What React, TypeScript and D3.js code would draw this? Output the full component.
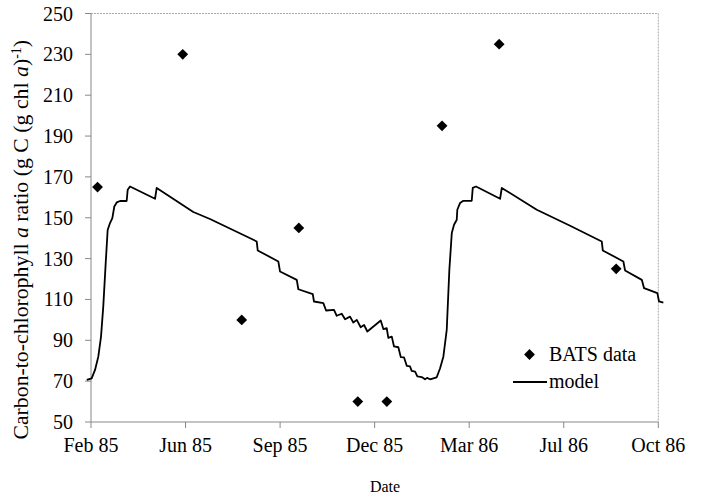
import React from "react";
import * as d3 from "d3";

// Days since start of the run (tick spacing 101 days, Feb 85 .. Oct 86)
const tickLabels = ["Feb 85", "Jun 85", "Sep 85", "Dec 85", "Mar 86", "Jul 86", "Oct 86"];
const tickDays = [0, 101, 202, 303, 404, 505, 606];
const yTicks = [50, 70, 90, 110, 130, 150, 170, 190, 210, 230, 250];

// BATS observations
const batsDay = [7, 98, 161, 222, 285, 316, 375, 436, 561];
const batsValue = [165, 230, 100, 145, 60, 60, 195, 235, 125];

// Model output
const modelDay = [
  -4.5, 0.7, 4.3, 7.8, 10.7, 13.1, 15.7, 17.8, 20.3, 22.8, 24.9, 27.5, 31, 38.1, 39.2, 41.7,
  68.4, 70.2, 109.3, 127.1, 173.4, 177, 178.1, 200.1, 201.9, 219.8, 221.5, 236.9, 238.2,
  248.2, 251.1, 259.6, 262.5, 267.8, 271.4, 276.7, 280.2, 283.9, 288.1, 291.7, 295.2,
  309.5, 312.3, 315.9, 317.6, 321.3, 323.7, 328.3, 330.9, 334.4, 337.3, 340.8, 342.6,
  346.2, 348.6, 353.3, 356.8, 359, 362.2, 365.7, 369.3, 372.9, 376.4, 380, 382.8, 385.4,
  387.8, 390.7, 391.3, 394.2, 397.8, 406.7, 407.8, 411.3, 437, 438.8, 476.2, 511.8,
  545.6, 546.7, 568.7, 570.5, 588.4, 590.8, 605, 606.8, 611.4,
];
const modelValue = [
  70.6, 71.4, 75.5, 82, 91.8, 106.5, 127.8, 144, 147.4, 149.8, 155.5, 157.5, 158.2, 158.2, 163.7, 165.3,
  159.3, 164.6, 152.8, 149.4, 139.2, 138.4, 134, 128.6, 123.7, 119.6, 115, 112.6, 109,
  108.2, 104.6, 104.9, 102, 103, 100.3, 101.6, 98.7, 100, 96.4, 97.5, 94.3,
  99.7, 95.5, 95.9, 91.2, 91.8, 87, 86.6, 81.8, 81.6, 77.5, 77.2, 75,
  74.7, 72.3, 72, 70.9, 71.6, 70.9, 71.4, 71.9, 76.3, 82, 95.1, 124.5, 142.5,
  146.6, 149, 153.9, 157.2, 158.3, 158.3, 164.6, 165.3, 159.3, 164.6, 153.9, 146.1,
  138.4, 134, 128.6, 124.2, 119.6, 115.5, 113.1, 109, 108.5,
];

const W = 703;
const H = 499;
const left = 91;
const right = 658.3;
const top = 13.5;
const bottom = 422;
const font = "Liberation Serif";

export default function App() {
  const x = d3.scaleLinear().domain([0, 606]).range([left, right]);
  const y = d3.scaleLinear().domain([50, 250]).range([bottom, top]);

  const model = modelDay.map((d, i) => [d, modelValue[i]] as [number, number]);
  const line = d3
    .line<[number, number]>()
    .x((d) => x(d[0]))
    .y((d) => y(d[1]))(model);

  const r = 5.4;
  const diamond = d3.symbol(d3.symbolSquare, 2 * r * r)() as string;
  const txt = { fontFamily: font, fill: "#000" } as React.CSSProperties;

  return (
    <svg
      width={W}
      height={H}
      style={{ position: "absolute", left: 0, top: 0, background: "#fff" }}
    >
      <rect x={0} y={0} width={W} height={H} fill="#fff" />
      {/* frame */}
      <line x1={left} x2={right} y1={top} y2={top} stroke="#aaa" strokeDasharray="2,1" />
      <line x1={right} x2={right} y1={top} y2={bottom} stroke="#aaa" strokeDasharray="2,1" />
      <line x1={left} x2={left} y1={top} y2={bottom} stroke="#888" />
      <line x1={left} x2={right} y1={bottom} y2={bottom} stroke="#888" />

      {yTicks.map((t) => (
        <g key={t}>
          <line x1={left - 6} x2={left} y1={y(t)} y2={y(t)} stroke="#888" />
          <text x={73} y={y(t)} dy="0.35em" textAnchor="end" fontSize={20} style={txt}>
            {t}
          </text>
        </g>
      ))}
      {tickDays.map((d, i) => (
        <g key={d}>
          <line x1={x(d)} x2={x(d)} y1={bottom} y2={bottom + 6} stroke="#888" />
          <text x={x(d)} y={452} textAnchor="middle" fontSize={20} style={txt}>
            {tickLabels[i]}
          </text>
        </g>
      ))}

      <text x={385} y={492} textAnchor="middle" fontSize={16} style={txt}>
        Date
      </text>
      <text
        transform={`translate(28, ${(top + bottom) / 2 + 22}) rotate(-90)`}
        textAnchor="middle"
        fontSize={21.8}
        style={txt}
      >
        Carbon-to-chlorophyll <tspan fontStyle="italic">a</tspan> ratio (g C (g chl{" "}
        <tspan fontStyle="italic">a</tspan>)
        <tspan baselineShift="super" fontSize={14}>-1</tspan>)
      </text>

      <path d={line ?? ""} fill="none" stroke="#000" strokeWidth={1.8} strokeLinejoin="round" />

      {batsDay.map((d, i) => (
        <path
          key={i}
          d={diamond}
          transform={`translate(${x(d)}, ${y(batsValue[i])}) rotate(45)`}
          fill="#000"
        />
      ))}

      {/* legend */}
      <path d={diamond} transform="translate(529.5, 354.5) rotate(45)" fill="#000" />
      <text x={549} y={361} fontSize={20} style={txt}>
        BATS data
      </text>
      <line x1={513} x2={547} y1={382} y2={382} stroke="#000" strokeWidth={1.8} />
      <text x={549} y={388} fontSize={20} style={txt}>
        model
      </text>
    </svg>
  );
}
